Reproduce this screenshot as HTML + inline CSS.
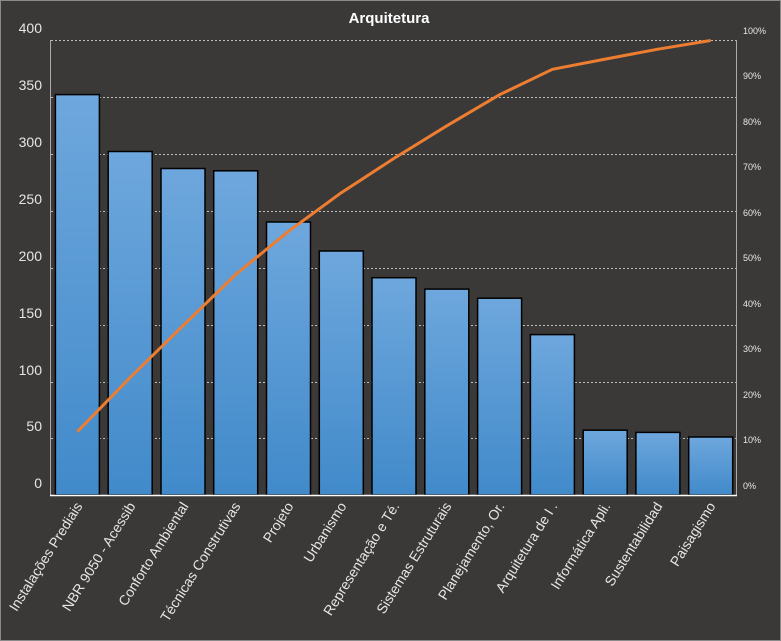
<!DOCTYPE html>
<html><head><meta charset="utf-8"><style>
html,body{margin:0;padding:0;background:#3a3938;}
svg{display:block;font-family:"Liberation Sans",sans-serif;}
</style></head><body>
<svg width="781" height="641" viewBox="0 0 781 641" xmlns="http://www.w3.org/2000/svg">
<defs><linearGradient id="g" x1="0" y1="0" x2="0" y2="1"><stop offset="0" stop-color="#6ea7dd"/><stop offset="1" stop-color="#418aca"/></linearGradient></defs>
<rect x="0.5" y="0.5" width="780" height="640" fill="#3a3938" stroke="#8a8a8a"/>
<text x="389" y="23" text-anchor="middle" fill="#fff" font-size="15" font-weight="bold">Arquitetura</text>
<g stroke="#bdbdbd" stroke-dasharray="2,2" stroke-width="1">
<line x1="51" y1="40.5" x2="737" y2="40.5"/><line x1="51" y1="97.5" x2="737" y2="97.5"/><line x1="51" y1="154.5" x2="737" y2="154.5"/><line x1="51" y1="211.5" x2="737" y2="211.5"/><line x1="51" y1="268.5" x2="737" y2="268.5"/><line x1="51" y1="325.5" x2="737" y2="325.5"/><line x1="51" y1="382.5" x2="737" y2="382.5"/><line x1="51" y1="438.5" x2="737" y2="438.5"/>
</g>
<line x1="50.5" y1="40" x2="50.5" y2="495" stroke="#aaa"/>
<line x1="736.5" y1="40" x2="736.5" y2="495" stroke="#aaa"/>
<g fill="url(#g)" stroke="#000" stroke-width="1.5">
<rect x="55.4" y="94.6" width="44" height="400.4"/>
<rect x="108.2" y="151.5" width="44" height="343.5"/>
<rect x="161" y="168.5" width="44" height="326.5"/>
<rect x="213.7" y="170.8" width="44" height="324.2"/>
<rect x="266.5" y="222" width="44" height="273"/>
<rect x="319.3" y="251" width="44" height="244"/>
<rect x="372" y="277.7" width="44" height="217.3"/>
<rect x="424.8" y="289.1" width="44" height="205.9"/>
<rect x="477.6" y="298.2" width="44" height="196.8"/>
<rect x="530.4" y="334.6" width="44" height="160.4"/>
<rect x="583.2" y="430.2" width="44" height="64.8"/>
<rect x="635.9" y="432.4" width="44" height="62.6"/>
<rect x="688.7" y="437" width="44" height="58"/>
</g>
<line x1="50" y1="495.5" x2="737" y2="495.5" stroke="#fff" stroke-width="1.5"/>
<polyline fill="none" stroke="#ed7d31" stroke-width="3" stroke-linejoin="round" points="77.4,431.7 130.2,377.4 183,325.7 235.7,274.5 288.5,231.3 341.3,192.7 394,158.4 446.8,125.8 499.6,94.7 552.4,69.3 605.2,59.1 657.9,49.2 710.7,40.5"/>
<g fill="#e6e6e6" font-size="14" text-anchor="end">
<text x="42" y="33">400</text><text x="42" y="90">350</text><text x="42" y="147">300</text><text x="42" y="204">250</text><text x="42" y="261">200</text><text x="42" y="318">150</text><text x="42" y="375">100</text><text x="42" y="431">50</text><text x="42" y="488">0</text>
</g>
<g fill="#e6e6e6" font-size="9" text-anchor="start">
<text x="743" y="34">100%</text><text x="743" y="79">90%</text><text x="743" y="125">80%</text><text x="743" y="170">70%</text><text x="743" y="216">60%</text><text x="743" y="261">50%</text><text x="743" y="307">40%</text><text x="743" y="352">30%</text><text x="743" y="398">20%</text><text x="743" y="443">10%</text><text x="743" y="489">0%</text>
</g>
<g fill="#e6e6e6" font-size="14" text-anchor="end">
<text transform="translate(83,506) rotate(-58)">Instalações Prediais</text>
<text transform="translate(136,506) rotate(-58)">NBR 9050 - Acessib</text>
<text transform="translate(189,506) rotate(-58)">Conforto Ambiental</text>
<text transform="translate(241,506) rotate(-58)">Técnicas Construtivas</text>
<text transform="translate(294,506) rotate(-58)">Projeto</text>
<text transform="translate(347,506) rotate(-58)">Urbanismo</text>
<text transform="translate(400,506) rotate(-58)">Representação e Té.</text>
<text transform="translate(452,506) rotate(-58)">Sistemas Estruturais</text>
<text transform="translate(505,506) rotate(-58)">Planejamento, Or.</text>
<text transform="translate(558,506) rotate(-58)">Arquitetura de I .</text>
<text transform="translate(611,506) rotate(-58)">Informática Apli.</text>
<text transform="translate(663,506) rotate(-58)">Sustentabilidad</text>
<text transform="translate(716,506) rotate(-58)">Paisagismo</text>
</g>
</svg>
</body></html>
